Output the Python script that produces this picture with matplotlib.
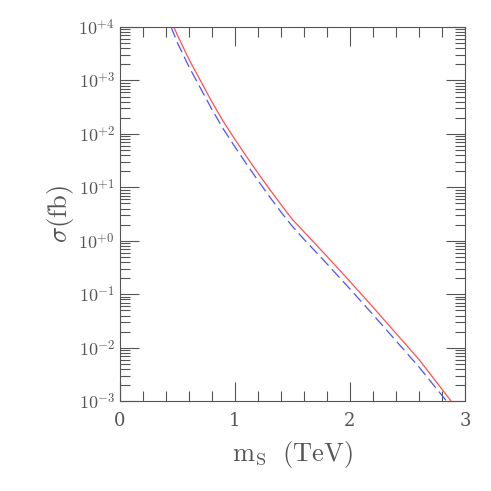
import matplotlib
matplotlib.use("Agg")
import matplotlib.pyplot as plt
import numpy as np
from matplotlib.ticker import FixedLocator, FixedFormatter

red_x = [0.47, 0.5, 0.6, 0.7, 0.8, 0.9, 1.0, 1.1, 1.2, 1.3, 1.4, 1.5, 1.6, 1.8, 2.0, 2.2, 2.4, 2.6, 2.88]
red_log = [4.0, 3.85, 3.4, 3.0, 2.6, 2.23, 1.9, 1.58, 1.27, 0.97, 0.68, 0.4, 0.17, -0.29, -0.76, -1.24, -1.73, -2.22, -3.0]
blue_x = [0.445, 0.5, 0.6, 0.7, 0.8, 0.9, 1.0, 1.1, 1.2, 1.3, 1.4, 1.5, 1.6, 1.8, 2.0, 2.2, 2.4, 2.6, 2.84]
blue_log = [4.0, 3.71, 3.26, 2.86, 2.46, 2.09, 1.76, 1.44, 1.13, 0.83, 0.54, 0.27, 0.03, -0.43, -0.9, -1.38, -1.87, -2.36, -3.0]
ytick_exp = [-3, -2, -1, 0, 1, 2, 3, 4]
ytick_labels = [r"$10^{-3}$", r"$10^{-2}$", r"$10^{-1}$", r"$10^{+0}$", r"$10^{+1}$", r"$10^{+2}$", r"$10^{+3}$", r"$10^{+4}$"]

plt.rcParams['font.family'] = ['DejaVu Serif']
plt.rcParams['mathtext.fontset'] = 'cm'
grey = '#555555'
fig = plt.figure(figsize=(4.91, 4.91), dpi=100)
ax = fig.add_axes([0.244, 0.183, 0.703, 0.762])
ax.plot(red_x, 10**np.array(red_log), color='#ff5050', lw=0.9)
ax.plot(blue_x, 10**np.array(blue_log), color='#5050ff', lw=0.9, dashes=(9, 4))
ax.set_yscale('log')
ax.set_xlim(0, 3)
ax.set_ylim(1e-3, 1e4)
ax.set_xticks([0, 1, 2, 3])
ax.set_xticklabels(['0', '1', '2', '3'])
ax.set_xticks(np.arange(0, 3.01, 0.2), minor=True)
ax.yaxis.set_major_locator(FixedLocator([10.0**e for e in ytick_exp]))
ax.yaxis.set_major_formatter(FixedFormatter(ytick_labels))
ax.yaxis.set_minor_locator(matplotlib.ticker.LogLocator(subs=np.arange(2, 10)))
ax.yaxis.set_minor_formatter(matplotlib.ticker.NullFormatter())
ax.tick_params(which='both', direction='in', top=True, right=True, color=grey, labelcolor=grey, labelsize=13)
ax.tick_params(which='major', length=14, width=0.8)
ax.tick_params(which='minor', length=7, width=0.8)
ax.tick_params(axis='x', pad=8)
for s in ax.spines.values():
    s.set_color(grey)
ax.set_xlabel(r"$\mathrm{m_S\ \ (TeV)}$", color=grey, fontsize=19, labelpad=6)
ax.set_ylabel(r"$\sigma\mathrm{(fb)}$", color=grey, fontsize=19, labelpad=2)
fig.savefig('out.png', dpi=100)
